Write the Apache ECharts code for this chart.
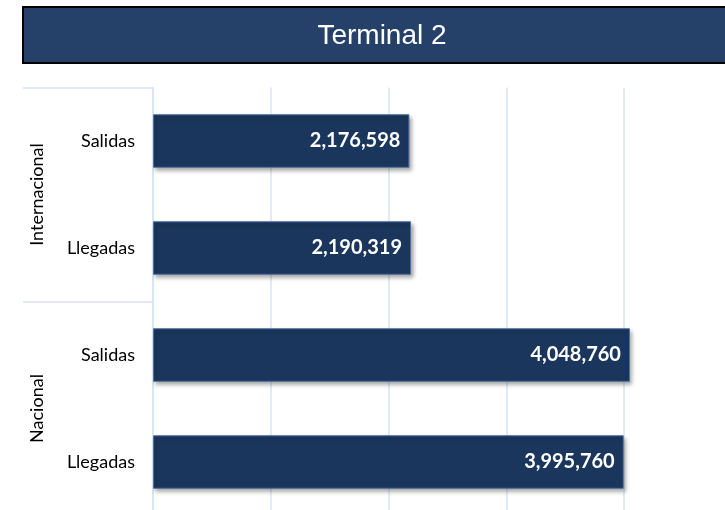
<!DOCTYPE html>
<html><head><meta charset="utf-8">
<script src="https://cdn.jsdelivr.net/npm/echarts@6/dist/echarts.min.js"></script>
<style>html,body{margin:0;padding:0;background:#fff}#c{width:725px;height:510px}</style>
</head><body><div id="c"></div>
<script>
const titleText = 'Terminal 2';
const categories = ['Salidas', 'Llegadas', 'Salidas', 'Llegadas'];
const groups = ['Internacional', 'Nacional'];
const values = [2176598, 2190319, 4048760, 3995760];
const axisMin = 0, axisMax = 5000000, axisStep = 1000000;

const chart = echarts.init(document.getElementById('c'));
chart.setOption({
  animation: false,
  backgroundColor: '#ffffff',
  graphic: [
    { type: 'rect', shape: { x: 23, y: 7, width: 720, height: 56 },
      style: { fill: '#25416a', stroke: '#000000', lineWidth: 2 }, z: 10 },
    { type: 'text', x: 382, y: 36, z: 11,
      style: { text: titleText, fill: '#ffffff', font: '28px "Liberation Sans", Arial, sans-serif',
               textAlign: 'center', textVerticalAlign: 'middle' } }
  ],
  grid: { left: 153, width: 589, top: 87.5, height: 428, outerBoundsMode: 'none', containLabel: false },
  xAxis: {
    type: 'value', min: axisMin, max: axisMax, interval: axisStep,
    axisLabel: { show: false }, axisLine: { show: false }, axisTick: { show: false },
    splitLine: { show: true, lineStyle: { color: '#d7e3f4', width: 1.5 } }
  },
  yAxis: [
    { type: 'category', data: categories.map((c, i) => i), inverse: true,
      axisLine: { show: true, lineStyle: { color: '#d7e3f4', width: 1.5 } },
      axisTick: { show: false },
      axisLabel: { margin: 18, color: '#000', fontFamily: 'Lato', fontSize: 18,
                   formatter: v => categories[v] } },
    { type: 'category', data: groups, inverse: true, position: 'left',
      axisLine: { show: false },
      axisTick: { show: true, length: 130, interval: 0, lineStyle: { color: '#d7e3f4', width: 1.5 } },
      axisLabel: { rotate: 90, margin: 107, color: '#000', fontFamily: 'Lato', fontSize: 18, interval: 0 } }
  ],
  series: [{
    type: 'bar', yAxisIndex: 0, data: values, barWidth: '50%',
    itemStyle: { color: '#1b365d', borderColor: '#4d6f9e', borderWidth: 1,
                 shadowBlur: 4, shadowOffsetX: 2, shadowOffsetY: 3, shadowColor: 'rgba(0,0,0,0.35)' },
    label: { show: true, position: 'insideRight', distance: 9, color: '#ffffff',
             fontFamily: 'Lato', fontWeight: 'bold', fontSize: 20,
             formatter: p => p.value.toLocaleString('en-US') }
  }]
});
</script></body></html>
